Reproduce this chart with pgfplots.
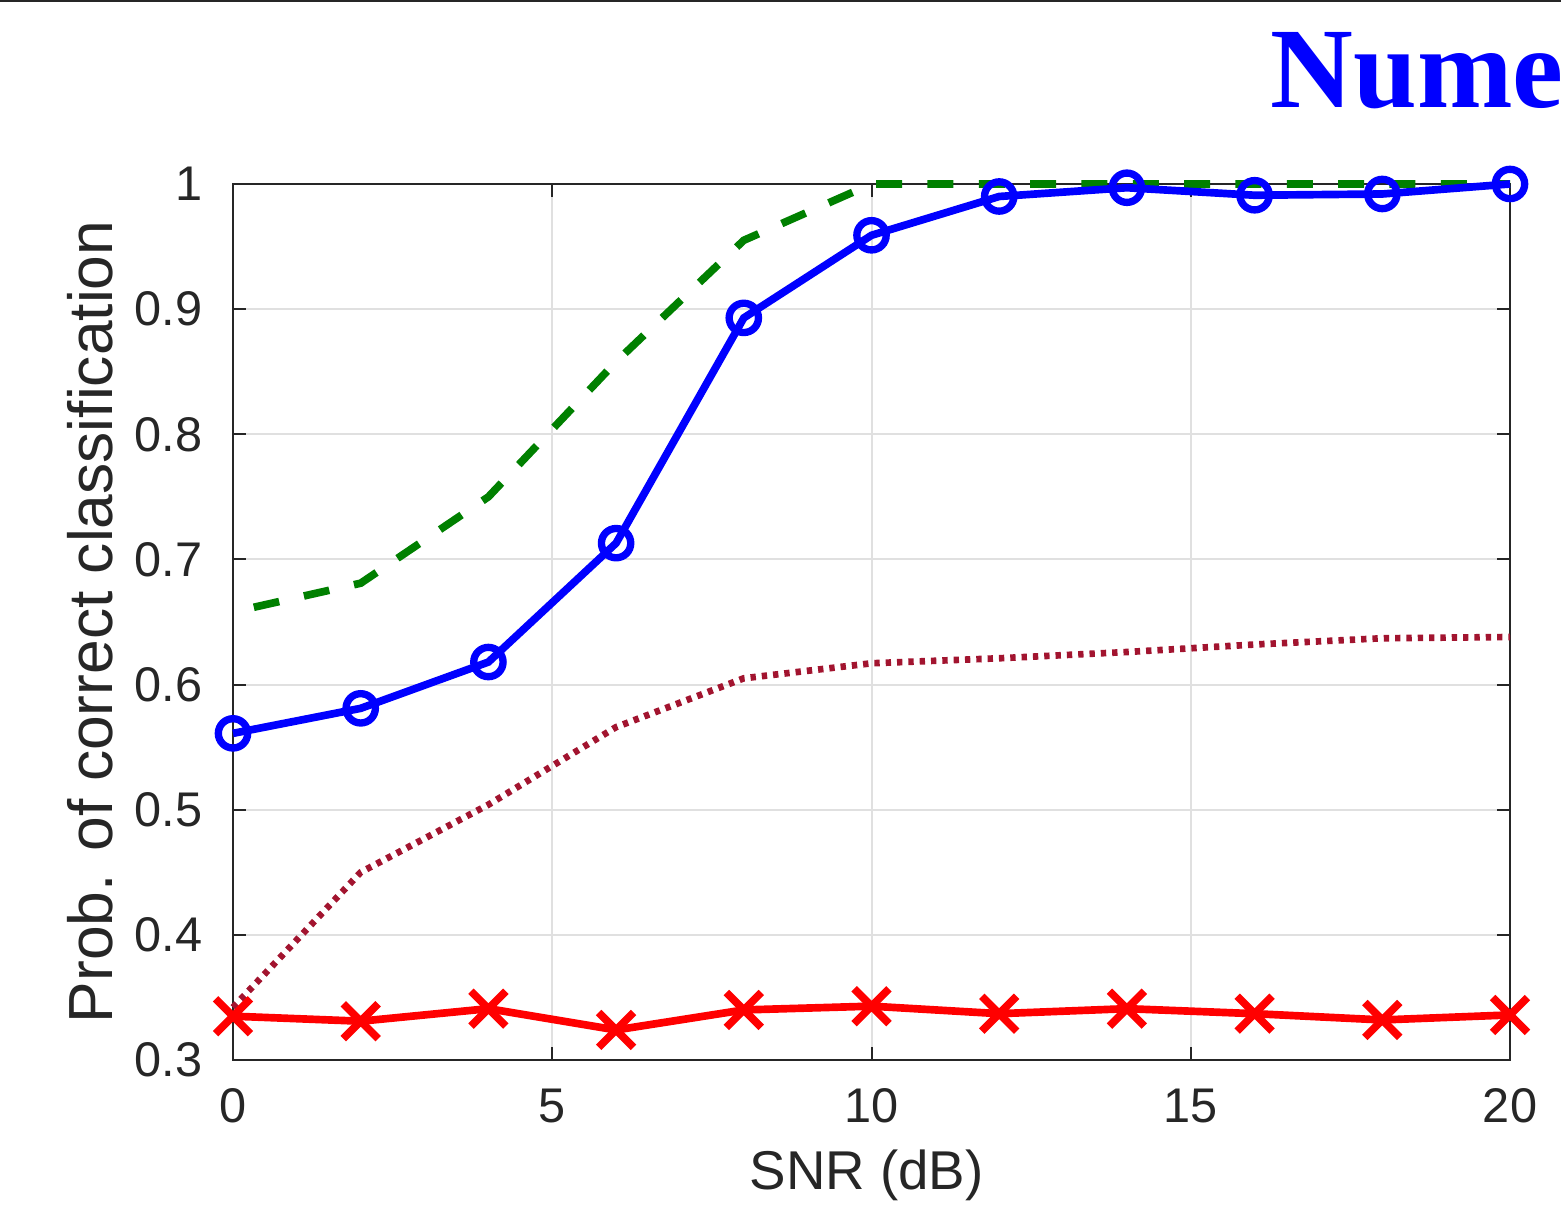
\documentclass[border=0pt]{standalone}
\usepackage{fontspec}
\setmainfont{Liberation Sans}
\newfontfamily\titlefont{Liberation Serif}
\usepackage{pgfplots}
\pgfplotsset{compat=1.18}
\definecolor{mblue}{rgb}{0,0,1}
\definecolor{mgreen}{rgb}{0,0.5,0}
\definecolor{mdred}{rgb}{0.635,0.078,0.184}
\definecolor{mred}{rgb}{1,0,0}
\definecolor{axgray}{gray}{0.15}
\definecolor{gridgray}{gray}{0.88}
\begin{document}
\begin{tikzpicture}
\path[use as bounding box] (0,0) rectangle (468.3pt,363pt);
\begin{scope}
\clip (0,0) rectangle (468.3pt,363pt);
\node[anchor=base west, inner sep=0pt, text=mblue, font=\titlefont\bfseries\fontsize{34.4}{40}\selectfont] at (381pt,330.6pt) {Numerical Results};
\draw[line width=0.7pt, black!85] (0,362.7pt) -- (468.3pt,362.7pt);
\end{scope}
\begin{axis}[
  at={(69.9pt,45pt)}, anchor=south west,
  scale only axis, width=383.1pt, height=262.8pt,
  xmin=0, xmax=20, ymin=0.3, ymax=1,
  xtick={0,5,10,15,20}, xticklabels={0,5,10,15,20},
  ytick={0.3,0.4,0.5,0.6,0.7,0.8,0.9,1},
  yticklabels={0.3,0.4,0.5,0.6,0.7,0.8,0.9,1},
  grid=major, major grid style={gridgray, line width=0.6pt},
  axis line style={axgray, line width=0.6pt},
  tick style={axgray, line width=0.6pt},
  tick align=inside, major tick length=3.8pt,
  /pgf/number format/assume math mode=true,
  ticklabel style={font=\fontsize{14.6}{17}\selectfont, text=axgray},
  xticklabel style={anchor=north, inner sep=0pt, yshift=-8.4pt},
  yticklabel style={anchor=east, inner sep=0pt, xshift=-9pt},
  clip=false,
]
\addplot[mgreen, line width=2.3pt, dash pattern=on 7.8pt off 7.6pt, dash phase=9pt] coordinates {
  (0,0.658) (2,0.681) (4,0.750) (6,0.858) (8,0.955) (10,1.0) (12,1.0) (14,1.0) (16,1.0) (18,1.0) (20,1.0)};
\addplot[mdred, line width=2pt, dash pattern=on 1.6pt off 1.8pt] coordinates {
  (0,0.342) (2,0.450) (4,0.504) (6,0.566) (8,0.605) (10,0.617) (12,0.621) (14,0.626) (16,0.632) (18,0.637) (20,0.638)};
\addplot[mblue, line width=2.3pt, mark=o, mark size=4.4pt, mark options={solid, line width=2.2pt}] coordinates {
  (0,0.561) (2,0.581) (4,0.618) (6,0.713) (8,0.893) (10,0.959) (12,0.990) (14,0.997) (16,0.991) (18,0.992) (20,1.0)};
\addplot[mred, line width=2.3pt, mark=x, mark size=7.4pt, mark options={solid, line width=2.3pt}] coordinates {
  (0,0.335) (2,0.331) (4,0.341) (6,0.324) (8,0.340) (10,0.343) (12,0.337) (14,0.341) (16,0.337) (18,0.332) (20,0.336)};
\end{axis}
\node[anchor=base, inner sep=0pt, font=\fontsize{16.4}{19}\selectfont, text=axgray] at (260pt,6pt) {SNR (dB)};
\node[rotate=90, anchor=base, inner sep=0pt, font=\fontsize{18.7}{22}\selectfont, text=axgray] at (33.6pt,176.4pt) {Prob. of correct classification};
\end{tikzpicture}
\end{document}
